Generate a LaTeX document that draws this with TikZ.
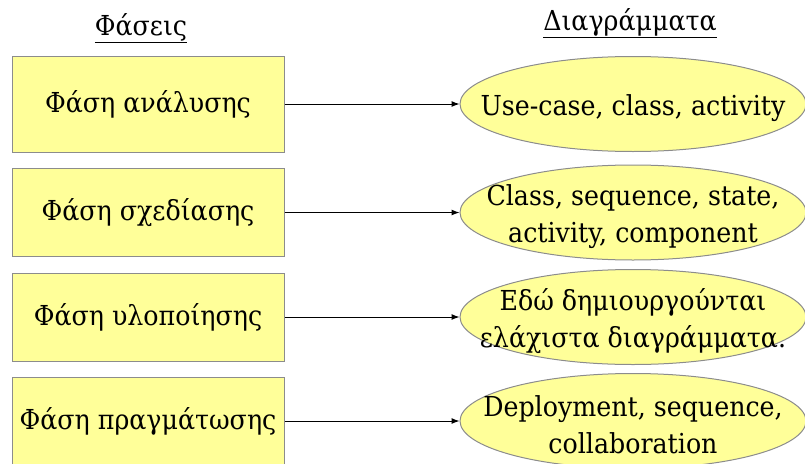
\documentclass[tikz,border=0pt]{standalone}
\usepackage{fontspec}
\setmainfont{DejaVu Serif}[FakeStretch=0.92]
\usetikzlibrary{shapes.geometric,arrows.meta}

\definecolor{phaseyellow}{RGB}{255,255,153}
\definecolor{edgegray}{RGB}{140,140,140}

\tikzset{
	bigfont/.style={font=\fontsize{27.5}{37}\selectfont},
	phase/.style={draw=edgegray, fill=phaseyellow, line width=1pt, minimum width=272, minimum height=88, bigfont},
	diag/.style={ellipse, draw=edgegray, fill=phaseyellow, line width=1pt, minimum width=346, minimum height=95, inner sep=0pt},
	diagtext/.style={align=center, inner sep=0pt, yshift=-4pt, bigfont},
	heading/.style={anchor=base, inner sep=0pt, bigfont},
	link/.style={-{Latex[length=8pt,width=6pt]}, line width=1pt},
}

\begin{document}
\begin{tikzpicture}[x=1pt, y=-1pt]
				\useasboundingbox (0,0) rectangle (805,463);
				
				% headings
				\node[heading] (phases) at (141, 35) {\underline{Φάσεις}};
				\node[heading] (diagrams) at (630, 30) {\underline{Διαγράμματα}};
				
				% phases
				\node[phase, minimum height=96] (analysis) at (148, 104) {Φάση ανάλυσης};
				\node[phase] (design) at (148, 212.5) {Φάση σχεδίασης};
				\node[phase] (implementation) at (148, 317) {Φάση υλοποίησης};
				\node[phase] (deployment) at (148, 421) {Φάση πραγμάτωσης};
				
				% diagrams
				\node[diag] (usecase) at (633, 104) {};
				\node[diag] (classseq) at (633, 212.5) {};
				\node[diag] (few) at (633, 317) {};
				\node[diag] (deployseq) at (633, 421) {};
				
				\node[diagtext] (usecasetext) at (usecase) {Use-case, class, activity};
				\node[diagtext] (classseqtext) at (classseq) {Class, sequence, state,\\activity, component};
				\node[diagtext] (fewtext) at (few) {Εδώ δημιουργούνται\\ελάχιστα διαγράμματα.};
				\node[diagtext] (deployseqtext) at (deployseq) {Deployment, sequence,\\collaboration};
				
				% arrows
				\draw[link] (analysis) -- (usecase);
				\draw[link] (design) -- (classseq);
				\draw[link] (implementation) -- (few);
				\draw[link] (deployment) -- (deployseq);
			\end{tikzpicture}
\end{document}
